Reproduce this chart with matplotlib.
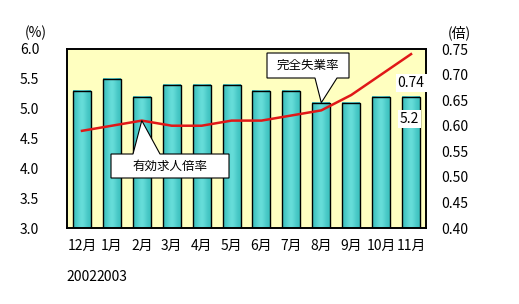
import numpy as np
import matplotlib.pyplot as plt
import matplotlib.transforms as mtransforms
from matplotlib.patches import Polygon
from matplotlib.colors import LinearSegmentedColormap

plt.rcParams['font.family'] = ['Noto Sans CJK JP', 'DejaVu Sans']

months = ['12月', '1月', '2月', '3月', '4月', '5月', '6月', '7月', '8月', '9月', '10月', '11月']
years = ['2002', '2003']
unemployment = [5.3, 5.5, 5.2, 5.4, 5.4, 5.4, 5.3, 5.3, 5.1, 5.1, 5.2, 5.2]   # 完全失業率 (%)
job_ratio = [0.59, 0.60, 0.61, 0.60, 0.60, 0.61, 0.61, 0.62, 0.63, 0.66, 0.70, 0.74]  # 有効求人倍率 (倍)

W, H = 519, 304
fig = plt.figure(figsize=(W / 100, H / 100), dpi=100)
L, R, T, B = 67, 426, 49, 228
ax = fig.add_axes([L / W, 1 - B / H, (R - L) / W, (B - T) / H])
ax.set_facecolor('#FFFFC0')
x = np.arange(len(months))
ymin, ymax = 3.0, 6.0

bars = ax.bar(x, unemployment, width=0.6, color='none', edgecolor='black', linewidth=1, zorder=3)
# horizontal gradient inside each bar
grad = np.array([[0.0, 0.5, 1.0, 0.5, 0.0]])
cm = LinearSegmentedColormap.from_list('teal', ['#3FC2C0', '#6EE2DE'])
for b in bars:
    x0 = b.get_x()
    ax.imshow(grad, extent=[x0, x0 + b.get_width(), ymin, b.get_height()],
              cmap=cm, aspect='auto', interpolation='bicubic', zorder=2.5)

ax.set_xlim(-0.5, len(months) - 0.5)
ax.set_ylim(ymin, ymax)
ax.set_yticks(np.arange(3.0, 6.01, 0.5))
ax.set_yticklabels(['%.1f' % v for v in np.arange(3.0, 6.01, 0.5)], fontsize=10)
ax.set_xticks(x)
ax.set_xticklabels(months, fontsize=10)
ax.tick_params(axis='y', length=0, pad=20)
ax.tick_params(axis='x', length=0, pad=8)

ax2 = ax.twinx()
ax2.plot(x, job_ratio, color='#E01818', linewidth=1.8, zorder=5)
ax2.set_ylim(0.40, 0.75)
ax2.set_yticks(np.arange(0.40, 0.751, 0.05))
ax2.set_yticklabels(['%.2f' % v for v in np.arange(0.40, 0.751, 0.05)], fontsize=10)
ax2.tick_params(axis='y', length=0, pad=11)

for a in (ax, ax2):
    for s in a.spines.values():
        s.set_linewidth(1.2)

fig.text(25 / W, 1 - 33 / H, '(%)', fontsize=10, va='center')
fig.text(448 / W, 1 - 33 / H, '(倍)', fontsize=10, va='center')

# year labels under the first two months
trans = mtransforms.blended_transform_factory(ax.transData, ax.transAxes)
for i, yr in enumerate(years):
    ax.text(x[i], -0.275, yr, transform=trans, ha='center', va='center', fontsize=10)

# data labels for the last point
ax2.annotate('%.2f' % job_ratio[-1], (x[-1], job_ratio[-1]), xytext=(0, -21), textcoords='offset points',
             ha='center', va='center', fontsize=10, zorder=6,
             bbox=dict(boxstyle='square,pad=0.15', fc='white', ec='none'), annotation_clip=False)
ax.annotate('%.1f' % unemployment[-1], (x[-1], unemployment[-1]), xytext=(-1, -16), textcoords='offset points',
            ha='center', va='center', fontsize=10, zorder=6,
            bbox=dict(boxstyle='square,pad=0.15', fc='white', ec='none'))


def px2ax(px, py):
    return ((px - L) / (R - L), (B - py) / (B - T))


def callout(box, base, tip_data, axis, text):
    # box: (x0, y0, x1, y1) in pixels, base: wedge base x-range and edge y, tip from data
    tip = ax.transAxes.inverted().transform(axis.transData.transform(tip_data))
    x0, y0, x1, y1 = box
    bx0, bx1, by = base
    if by == y1:   # wedge on bottom edge
        pts = [(x0, y0), (x1, y0), (x1, y1), (bx1, y1), None, (bx0, y1), (x0, y1)]
    else:          # wedge on top edge
        pts = [(x0, y0), (bx0, y0), None, (bx1, y0), (x1, y0), (x1, y1), (x0, y1)]
    verts = [tip if p is None else px2ax(*p) for p in pts]
    poly = Polygon(verts, closed=True, transform=ax.transAxes, fc='white', ec='black',
                   lw=0.8, zorder=10, clip_on=False)
    ax2.add_patch(poly)
    cx, cy = px2ax((x0 + x1) / 2, (y0 + y1) / 2)
    ax2.text(cx, cy, text, transform=ax.transAxes, ha='center', va='center', fontsize=9, zorder=11)


callout((267, 53, 349, 78), (315, 337, 78), (x[8], unemployment[8]), ax, '完全失業率')
callout((111, 154, 229, 178), (133, 160, 154), (x[2], job_ratio[2]), ax2, '有効求人倍率')

fig.savefig('out.png', dpi=100)
